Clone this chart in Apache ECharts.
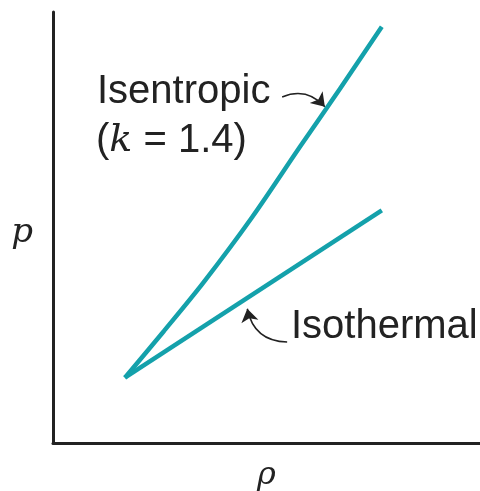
<!DOCTYPE html>
<html>
<head>
<meta charset="utf-8">
<script src="https://cdn.jsdelivr.net/npm/echarts@6/dist/echarts.min.js"></script>
<style>
  html, body { margin: 0; padding: 0; background: #fff; }
  #chart { width: 480px; height: 491px; }
</style>
</head>
<body>
<div id="chart"></div>
<script>
// density (x) and pressure (y) in arbitrary units
var isentropicRho = [1.01, 1.56, 2.11, 2.80, 3.47, 4.03, 4.62];
var isentropicP = [1.06, 1.82, 2.60, 3.67, 4.81, 5.75, 6.76];
var isothermalRho = [1.01, 4.62];
var isothermalP = [1.06, 3.78];

// label arrows: [from, to] in data units
var isentropicArrow = [[3.22, 5.62], [3.82, 5.46]];
var isothermalArrow = [[3.29, 1.64], [2.73, 2.18]];

var teal = '#14a1ab';
var ink = '#222';

function pairs(xs, ys) {
  return xs.map(function (x, i) { return [x, ys[i]]; });
}

function arrow(pts, curve) {
  return {
    type: 'lines', coordinateSystem: 'cartesian2d', silent: true,
    symbol: ['none', 'arrow'], symbolSize: 13,
    lineStyle: { color: ink, width: 1.5, opacity: 1, curveness: curve },
    data: [{ coords: pts }]
  };
}

var chart = echarts.init(document.getElementById('chart'));

chart.setOption({
  animation: false,
  grid: { left: 53, right: 0, top: 12, bottom: 48, outerBoundsMode: 'none', containLabel: false },
  xAxis: {
    type: 'value', min: 0, max: 6,
    name: 'ρ', nameLocation: 'middle', nameGap: 17,
    nameTextStyle: { fontFamily: 'DejaVu Serif', fontStyle: 'italic', fontSize: 32, color: ink },
    axisLine: { lineStyle: { color: '#222', width: 3 } },
    axisTick: { show: false }, axisLabel: { show: false }, splitLine: { show: false }
  },
  yAxis: {
    type: 'value', min: 0, max: 7,
    name: 'p', nameLocation: 'middle', nameGap: 20, nameRotate: 0,
    nameTextStyle: {
      fontFamily: 'DejaVu Serif', fontStyle: 'italic', fontSize: 34, color: ink,
      verticalAlign: 'top', lineHeight: 12
    },
    axisLine: { show: true, lineStyle: { color: '#222', width: 3 } },
    axisTick: { show: false }, axisLabel: { show: false }, splitLine: { show: false }
  },
  series: [
    {
      name: 'Isentropic', type: 'line', smooth: 0.3, showSymbol: false,
      data: pairs(isentropicRho, isentropicP),
      lineStyle: { color: teal, width: 4.5 }
    },
    {
      name: 'Isothermal', type: 'line', showSymbol: false,
      data: pairs(isothermalRho, isothermalP),
      lineStyle: { color: teal, width: 4.5 }
    },
    arrow(isentropicArrow, 0.35),
    arrow(isothermalArrow, 0.4)
  ],
  graphic: [
    {
      type: 'text', left: 97, top: 72,
      style: { text: 'Isentropic', font: '40px "Liberation Sans"', fill: ink }
    },
    {
      type: 'text', left: 96, top: 121,
      style: {
        text: '{n|(}{k|k}{n| = 1.4)}',
        fill: ink,
        rich: {
          n: { fontFamily: 'Liberation Sans', fontSize: 40, color: ink },
          k: { fontFamily: 'DejaVu Serif', fontStyle: 'italic', fontSize: 38, color: ink }
        }
      }
    },
    {
      type: 'text', left: 291, top: 307,
      style: { text: 'Isothermal', font: '40px "Liberation Sans"', fill: ink }
    }
  ]
});
</script>
</body>
</html>
